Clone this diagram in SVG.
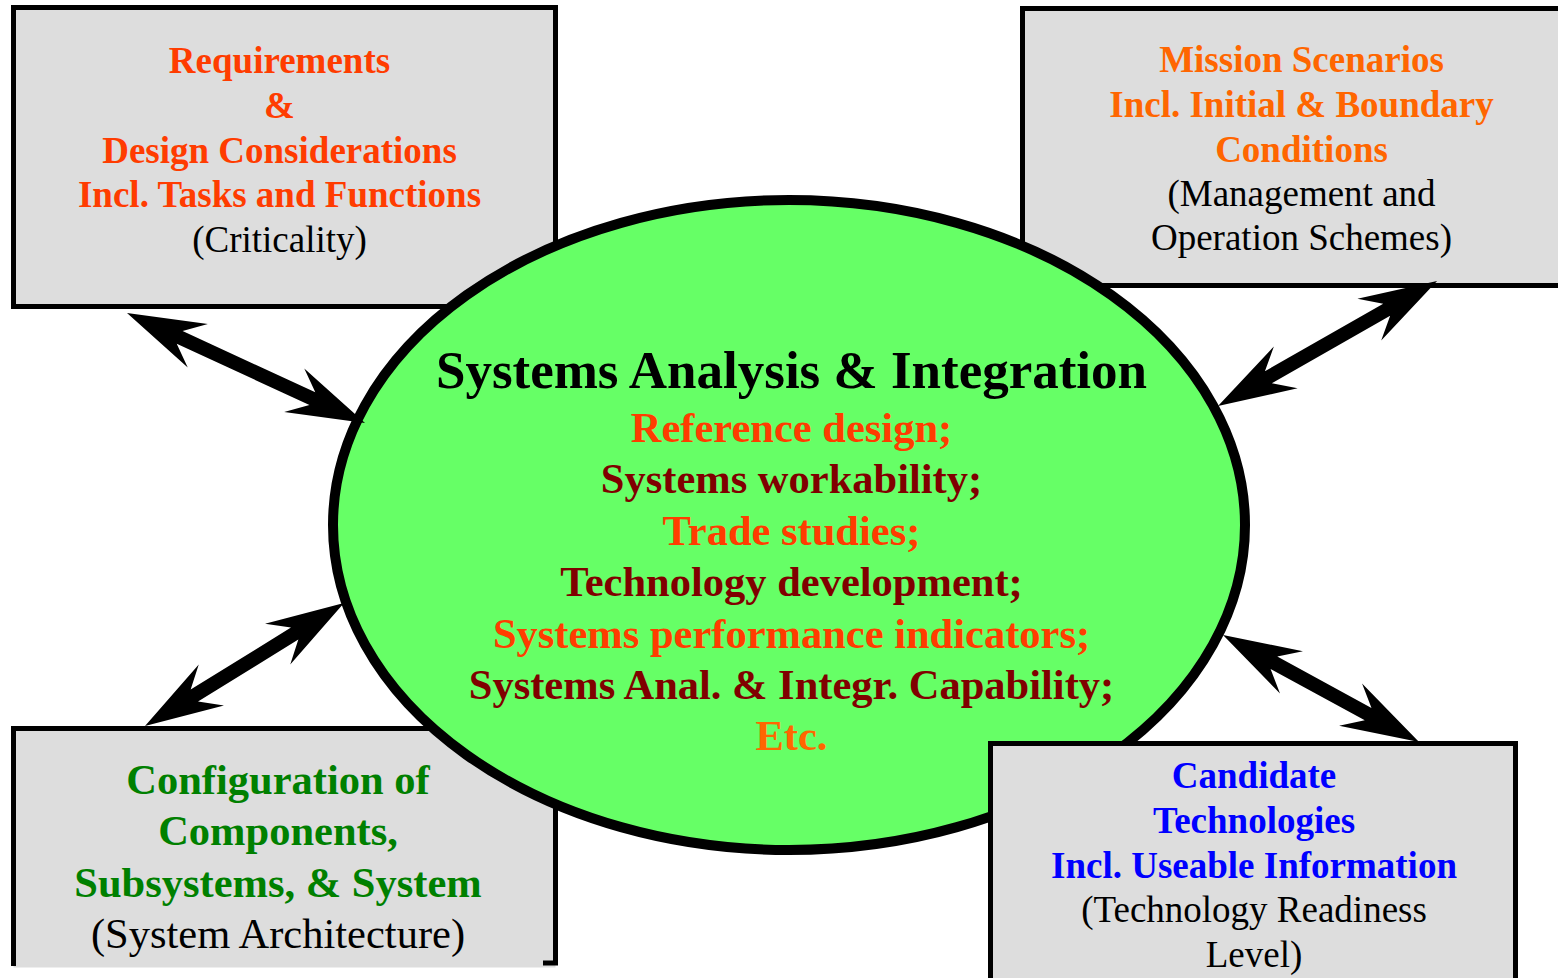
<svg xmlns="http://www.w3.org/2000/svg" width="1558" height="978" viewBox="0 0 1558 978" font-family="'Liberation Serif', Tinos, 'DejaVu Serif', 'Times New Roman', serif">
<style>
text{font-family:'Liberation Serif',Tinos,'DejaVu Serif','Times New Roman',serif;text-anchor:middle}
.b{font-weight:bold}
.s37{font-size:37px}
.s42{font-size:42.5px}
.box{fill:#DDDDDD;stroke:#000;stroke-width:5}
.rd{fill:#FF3C00}
.or{fill:#FF6600}
.mr{fill:#800000}
.gr{fill:#008000}
.bl{fill:#0000FF}
.k{fill:#000}
.arr{fill:#000}
</style>
<rect width="1558" height="978" fill="#fff"/>
<g id="requirements">
<rect class="box" x="13.5" y="7.5" width="542" height="299"/>
<text class="b s37 rd" x="279.5" y="73">Requirements</text>
<text class="b s37 rd" x="279.5" y="118">&amp;</text>
<text class="b s37 rd" x="279.5" y="163">Design Considerations</text>
<text class="b s37 rd" x="279.5" y="207">Incl. Tasks and Functions</text>
<text class="s37 k" x="279.5" y="252">(Criticality)</text>
</g>
<g id="mission">
<rect class="box" x="1022.5" y="8.5" width="560" height="277"/>
<text class="b s37 or" x="1301.5" y="72">Mission Scenarios</text>
<text class="b s37 or" x="1301.5" y="117">Incl. Initial &amp; Boundary</text>
<text class="b s37 or" x="1301.5" y="162">Conditions</text>
<text class="s37 k" x="1301.5" y="206">(Management and</text>
<text class="s37 k" x="1301.5" y="250">Operation Schemes)</text>
</g>
<g id="configuration">
<rect x="13.5" y="728.5" width="542" height="239" fill="#DDDDDD"/>
<path d="M13.5 966 V728.5 H555.5 V963 H543" fill="none" stroke="#000" stroke-width="5"/>
<text class="b s42 gr" x="278" y="794">Configuration of</text>
<text class="b s42 gr" x="278" y="845">Components,</text>
<text class="b s42 gr" x="278" y="897">Subsystems, &amp; System</text>
<text class="s42 k" x="278" y="948">(System Architecture)</text>
</g>
<g id="sai">
<ellipse cx="789" cy="525" rx="456" ry="325" fill="#66FF66" stroke="#000" stroke-width="10"/>
<text class="b k" style="font-size:53px" x="791.5" y="388">Systems Analysis &amp; Integration</text>
<text class="b s42 rd" x="791.5" y="442">Reference design;</text>
<text class="b s42 mr" x="791.5" y="493">Systems workability;</text>
<text class="b s42 rd" x="791.5" y="545">Trade studies;</text>
<text class="b s42 mr" x="791.5" y="596">Technology development;</text>
<text class="b s42 rd" x="791.5" y="648">Systems performance indicators;</text>
<text class="b s42 mr" x="791.5" y="699">Systems Anal. &amp; Integr. Capability;</text>
<text class="b s42 or" x="791.5" y="750">Etc.</text>
</g>
<g id="candidate">
<rect class="box" x="990.5" y="743.5" width="525" height="260"/>
<text class="b s37 bl" x="1254" y="788">Candidate</text>
<text class="b s37 bl" x="1254" y="833">Technologies</text>
<text class="b s37 bl" x="1254" y="878">Incl. Useable Information</text>
<text class="s37 k" x="1254" y="922">(Technology Readiness</text>
<text class="s37 k" x="1254" y="967">Level)</text>
</g>
<g id="connectors">
<polygon class="arr" transform="translate(127,313) rotate(24.8)" points="0,0 78,24 58,7 204.2,7 184.2,24 262.2,0 184.2,-24 204.2,-7 58,-7 78,-24"/>
<polygon class="arr" transform="translate(1218,406) rotate(-29.7)" points="0,0 78,24 58,7 194.2,7 174.2,24 252.2,0 174.2,-24 194.2,-7 58,-7 78,-24"/>
<polygon class="arr" transform="translate(145,726) rotate(-31.7)" points="0,0 78,24 58,7 175.9,7 155.9,24 233.9,0 155.9,-24 175.9,-7 58,-7 78,-24"/>
<polygon class="arr" transform="translate(1223,635) rotate(28.6)" points="0,0 78,24 58,7 165.3,7 145.3,24 223.3,0 145.3,-24 165.3,-7 58,-7 78,-24"/>
</g>
</svg>
